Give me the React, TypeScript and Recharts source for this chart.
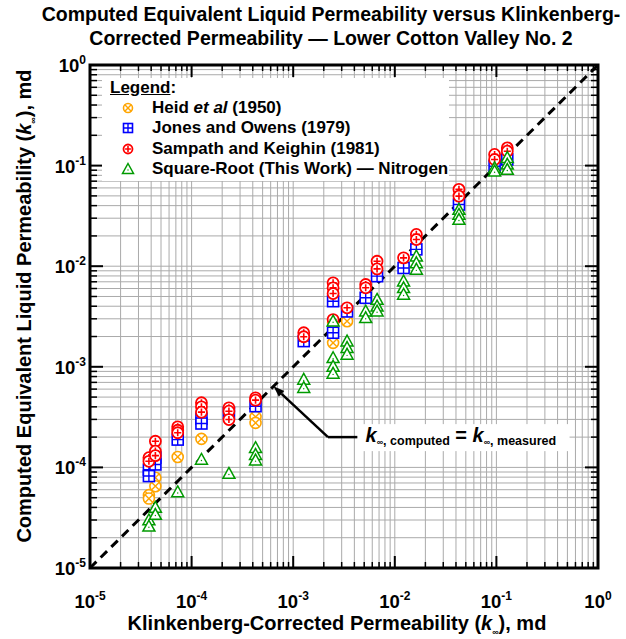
import React from "react"
import {
    ScatterChart,
    Scatter,
    XAxis,
    YAxis,
    CartesianGrid,
    ReferenceLine,
    ReferenceArea,
    ReferenceDot,
} from "recharts"

// log grid: 1..9 x 10^k between 1e-5 and 1
const DECADES = [-5, -4, -3, -2, -1]
const LOG_TICKS = [...DECADES.flatMap((e) => [1, 2, 3, 4, 5, 6, 7, 8, 9].map((m) => +(m * Math.pow(10, e)).toPrecision(3))), 1]

// [k_inf measured, k_inf computed], md
const HEID: [number, number][] = [
    [3.8e-5, 5.3e-5], [3.8e-5, 4.9e-5],
    [4.4e-5, 7.9e-5], [4.4e-5, 6.5e-5],
    [7.3e-5, 1.27e-4],
    [1.25e-4, 1.92e-4],
    [4.26e-4, 3.18e-4], [4.26e-4, 2.77e-4],
    [2.47e-3, 2.76e-3], [2.47e-3, 1.73e-3],
    [3.39e-3, 2.84e-3],
]

const JONES: [number, number][] = [
    [3.8e-5, 9.5e-5], [3.8e-5, 8.2e-5],
    [4.4e-5, 1.25e-4], [4.4e-5, 1.07e-4],
    [7.3e-5, 1.89e-4],
    [1.25e-4, 3.04e-4], [1.25e-4, 2.73e-4],
    [2.33e-4, 3.49e-4],
    [4.26e-4, 4.06e-4],
    [1.27e-3, 1.8e-3],
    [2.47e-3, 4.49e-3], [2.47e-3, 2.18e-3],
    [3.39e-3, 3.55e-3],
    [5.17e-3, 4.85e-3],
    [6.69e-3, 7.96e-3],
    [1.22e-2, 9.6e-3],
    [1.63e-2, 1.47e-2],
    [4.28e-2, 4.1e-2],
    [9.6e-2, 9.86e-2],
    [0.128, 0.115],
]

const SAMPATH: [number, number][] = [
    [3.8e-5, 1.25e-4], [3.8e-5, 1.15e-4],
    [4.4e-5, 1.82e-4], [4.4e-5, 1.45e-4], [4.4e-5, 1.31e-4],
    [7.3e-5, 2.53e-4], [7.3e-5, 2.34e-4], [7.3e-5, 2.21e-4],
    [1.25e-4, 4.39e-4], [1.25e-4, 4.0e-4], [1.25e-4, 3.54e-4],
    [2.33e-4, 3.91e-4], [2.33e-4, 3.62e-4], [2.33e-4, 2.99e-4],
    [4.26e-4, 4.92e-4], [4.26e-4, 4.66e-4],
    [1.27e-3, 2.18e-3], [1.27e-3, 1.99e-3],
    [2.47e-3, 6.84e-3], [2.47e-3, 6.1e-3], [2.47e-3, 5.35e-3], [2.47e-3, 2.95e-3],
    [3.39e-3, 3.86e-3],
    [5.17e-3, 6.58e-3], [5.17e-3, 6.1e-3],
    [6.69e-3, 1.12e-2], [6.69e-3, 9.4e-3],
    [1.22e-2, 1.21e-2],
    [1.63e-2, 2.07e-2], [1.63e-2, 1.84e-2],
    [4.28e-2, 5.8e-2], [4.28e-2, 4.97e-2],
    [9.6e-2, 0.129], [9.6e-2, 0.115],
    [0.128, 0.15], [0.128, 0.139],
]

const SQRT_N2: [number, number][] = [
    [3.8e-5, 3.0e-5], [3.8e-5, 2.6e-5],
    [4.4e-5, 4.0e-5], [4.4e-5, 3.4e-5],
    [7.3e-5, 5.7e-5],
    [1.25e-4, 1.2e-4],
    [2.33e-4, 8.7e-5],
    [4.26e-4, 1.57e-4], [4.26e-4, 1.34e-4], [4.26e-4, 1.18e-4],
    [1.27e-3, 7.5e-4], [1.27e-3, 6.2e-4],
    [2.47e-3, 2.84e-3], [2.47e-3, 1.23e-3], [2.47e-3, 1.01e-3], [2.47e-3, 8.6e-4],
    [3.39e-3, 1.8e-3], [3.39e-3, 1.55e-3], [3.39e-3, 1.33e-3],
    [5.17e-3, 3.57e-3], [5.17e-3, 3.07e-3],
    [6.69e-3, 4.67e-3], [6.69e-3, 4.0e-3], [6.69e-3, 3.57e-3],
    [1.22e-2, 7.1e-3], [1.22e-2, 6.1e-3], [1.22e-2, 5.24e-3],
    [1.63e-2, 1.26e-2], [1.63e-2, 1.08e-2], [1.63e-2, 9.3e-3],
    [4.28e-2, 3.66e-2], [4.28e-2, 3.27e-2], [4.28e-2, 2.91e-2],
    [9.6e-2, 9.5e-2], [9.6e-2, 8.8e-2],
    [0.128, 0.12], [0.128, 0.103], [0.128, 0.0914],
]

// annotation anchors (data coords)
const ARROW_TIP = { x: 6.4e-4, y: 6.4e-4 }
const ARROW_ELBOW = { x: 2.2e-3, y: 2.0e-4 }
const NOTE_START = { x: 4.3e-3, y: 2.0e-4 }

const ORANGE = "#FFA500"
const BLUE = "#0000FF"
const RED = "#FF0000"
const GREEN = "#009A00"
const FONT = "'Liberation Sans', Arial, sans-serif"

const PLOT = { left: 90, right: 598, top: 65, bottom: 568 }
const W = 626
const H = 639
const Y_AXIS_W = 60
const X_AXIS_H = 50

const toRows = (pts: [number, number][]) => pts.map(([x, y]) => ({ x, y }))

const isMajor = (v: number) => Math.abs(Math.log10(v) - Math.round(Math.log10(v))) < 1e-6

const HeidMark = ({ cx, cy, r = 5.5 }: any) => {
    const d = r * 0.707
    return (
        <g>
            <circle cx={cx} cy={cy} r={r} fill="#fff" stroke={ORANGE} strokeWidth={1.6} />
            <path d={`M${cx - d},${cy - d}L${cx + d},${cy + d}M${cx - d},${cy + d}L${cx + d},${cy - d}`} stroke={ORANGE} strokeWidth={1.4} />
        </g>
    )
}

const JonesMark = ({ cx, cy, r = 5.5 }: any) => (
    <g>
        <rect x={cx - r} y={cy - r} width={2 * r} height={2 * r} fill="#fff" stroke={BLUE} strokeWidth={1.6} />
        <path d={`M${cx - r},${cy}L${cx + r},${cy}M${cx},${cy - r}L${cx},${cy + r}`} stroke={BLUE} strokeWidth={1.4} />
    </g>
)

const SampathMark = ({ cx, cy, r = 5.5 }: any) => {
    const d = r * 0.65
    return (
        <g>
            <circle cx={cx} cy={cy} r={r} fill="#fff" stroke={RED} strokeWidth={1.8} />
            <path d={`M${cx - d},${cy}L${cx + d},${cy}M${cx},${cy - d}L${cx},${cy + d}`} stroke={RED} strokeWidth={1.6} />
        </g>
    )
}

const SqrtMark = ({ cx, cy, r = 6 }: any) => (
    <g>
        <path d={`M${cx},${cy - r}L${cx + r},${cy + r * 0.8}L${cx - r},${cy + r * 0.8}Z`} fill="#fff" stroke={GREEN} strokeWidth={1.5} />
        <circle cx={cx} cy={cy + 1} r={0.7} fill={GREEN} />
    </g>
)

const Pow10 = ({ exp }: { exp: number }) => (
    <>
        <tspan>10</tspan>
        <tspan dy={-8} fontSize={12}>{exp}</tspan>
    </>
)

const XTick = (props: any) => {
    const { x, payload } = props
    const v = payload.value
    const major = isMajor(v)
    const len = major ? 12 : 6
    return (
        <g>
            <line x1={x} x2={x} y1={PLOT.bottom} y2={PLOT.bottom - len} stroke="#000" strokeWidth={major ? 2 : 1.5} />
            <line x1={x} x2={x} y1={PLOT.top} y2={PLOT.top + len} stroke="#000" strokeWidth={major ? 2 : 1.5} />
            {major && (
                <text x={x} y={608} textAnchor="middle" fontFamily={FONT} fontWeight="bold" fontSize={18.5} fill="#000">
                    <Pow10 exp={Math.round(Math.log10(v))} />
                </text>
            )}
        </g>
    )
}

const YTick = (props: any) => {
    const { y, payload } = props
    const v = payload.value
    const major = isMajor(v)
    const len = major ? 13 : 7
    return (
        <g>
            <line x1={PLOT.left} x2={PLOT.left + len} y1={y} y2={y} stroke="#000" strokeWidth={major ? 2 : 1.5} />
            <line x1={PLOT.right} x2={PLOT.right - len} y1={y} y2={y} stroke="#000" strokeWidth={major ? 2 : 1.5} />
            {major && (
                <text x={PLOT.left - 4} y={y + 7} textAnchor="end" fontFamily={FONT} fontWeight="bold" fontSize={18.5} fill="#000">
                    <Pow10 exp={Math.round(Math.log10(v))} />
                </text>
            )}
        </g>
    )
}

const XTitle = () => (
    <text x={337} y={630} textAnchor="middle" fontFamily={FONT} fontWeight="bold" fontSize={20} fill="#000">
        Klinkenberg-Corrected Permeability (<tspan fontStyle="italic">k</tspan>
        <tspan fontSize={9} dy={5}>∞</tspan>
        <tspan dy={-5}>), md</tspan>
    </text>
)

const YTitle = () => {
    const cx = 31
    const cy = 306
    return (
        <text x={cx} y={cy} transform={`rotate(-90 ${cx} ${cy})`} textAnchor="middle" fontFamily={FONT} fontWeight="bold" fontSize={20} fill="#000">
            Computed Equivalent Liquid Permeability (<tspan fontStyle="italic">k</tspan>
            <tspan fontSize={9} dy={5}>∞</tspan>
            <tspan dy={-5}>), md</tspan>
        </text>
    )
}

const Arrow = (props: any) => {
    const { x1, y1, x2, y2 } = props
    const a = Math.atan2(y2 - y1, x2 - x1)
    const L = 11
    const Wd = 4
    const bx = x2 - L * Math.cos(a)
    const by = y2 - L * Math.sin(a)
    const px = -Math.sin(a) * Wd
    const py = Math.cos(a) * Wd
    return (
        <g>
            <line x1={x1} y1={y1} x2={bx} y2={by} stroke="#000" strokeWidth={2.5} />
            <path d={`M${x2},${y2}L${bx + px},${by + py}L${bx - px},${by - py}Z`} fill="#000" />
        </g>
    )
}

const Note = (props: any) => {
    const { cx, cy } = props
    return (
        <g>
            <rect x={cx} y={cy - 13} width={212} height={27} fill="#fff" />
            <text x={cx + 8} y={cy + 5} fontFamily={FONT} fontWeight="bold" fontSize={20} fill="#000">
                <tspan fontStyle="italic">k</tspan>
                <tspan fontSize={9} dy={3}>∞</tspan>
                <tspan fontSize={12.5}>, computed</tspan>
                <tspan dy={-3}> = </tspan>
                <tspan fontStyle="italic">k</tspan>
                <tspan fontSize={9} dy={3}>∞</tspan>
                <tspan fontSize={12.5}>, measured</tspan>
            </text>
        </g>
    )
}

const LEGEND_ITEMS = [
    { key: "heid", Mark: HeidMark, label: <>Heid <i>et al</i> (1950)</> },
    { key: "jones", Mark: JonesMark, label: <>Jones and Owens (1979)</> },
    { key: "sampath", Mark: SampathMark, label: <>Sampath and Keighin (1981)</> },
    { key: "sqrt", Mark: SqrtMark, label: <>Square-Root (This Work) — Nitrogen</> },
]

export default function App() {
    return (
        <div style={{ position: "absolute", left: 0, top: 0, width: W, height: H, background: "#fff", fontFamily: FONT }}>
            <div
                style={{
                    position: "absolute",
                    left: 36,
                    top: 2,
                    width: 590,
                    textAlign: "center",
                    fontWeight: "bold",
                    fontSize: 19.5,
                    lineHeight: "24px",
                    whiteSpace: "nowrap",
                    color: "#000",
                }}
            >
                Computed Equivalent Liquid Permeability versus Klinkenberg-
                <br />
                Corrected Permeability — Lower Cotton Valley No. 2
            </div>

            <div style={{ position: "absolute", left: 0, top: 0 }}>
                <ScatterChart
                    width={W}
                    height={H}
                    margin={{
                        top: PLOT.top,
                        right: W - PLOT.right,
                        left: PLOT.left - Y_AXIS_W,
                        bottom: H - PLOT.bottom - X_AXIS_H,
                    }}
                >
                    <CartesianGrid stroke="#aaaaaa" strokeWidth={1} horizontal vertical />
                    <XAxis
                        type="number"
                        dataKey="x"
                        scale="log"
                        domain={[1e-5, 1]}
                        allowDataOverflow
                        ticks={LOG_TICKS}
                        interval={0}
                        axisLine={false}
                        tickLine={false}
                        tick={<XTick />}
                        height={X_AXIS_H}
                        label={<XTitle />}
                    />
                    <YAxis
                        type="number"
                        dataKey="y"
                        scale="log"
                        domain={[1e-5, 1]}
                        allowDataOverflow
                        ticks={LOG_TICKS}
                        interval={0}
                        axisLine={false}
                        tickLine={false}
                        tick={<YTick />}
                        width={Y_AXIS_W}
                        label={<YTitle />}
                    />
                    <ReferenceLine
                        segment={[{ x: 1e-5, y: 1e-5 }, { x: 1, y: 1 }]}
                        stroke="#000"
                        strokeWidth={3}
                        strokeDasharray="9 6"
                    />
                    <ReferenceLine segment={[ARROW_ELBOW, ARROW_TIP]} shape={<Arrow />} />
                    <ReferenceLine segment={[ARROW_ELBOW, NOTE_START]} stroke="#000" strokeWidth={2.5} />
                    <ReferenceDot x={NOTE_START.x} y={NOTE_START.y} r={1} shape={<Note />} />
                    <Scatter name="Heid et al (1950)" data={toRows(HEID)} shape={<HeidMark />} isAnimationActive={false} />
                    <Scatter name="Jones and Owens (1979)" data={toRows(JONES)} shape={<JonesMark />} isAnimationActive={false} />
                    <Scatter name="Sampath and Keighin (1981)" data={toRows(SAMPATH)} shape={<SampathMark />} isAnimationActive={false} />
                    <Scatter name="Square-Root (This Work) — Nitrogen" data={toRows(SQRT_N2)} shape={<SqrtMark />} isAnimationActive={false} />
                    <ReferenceArea x1={1e-5} x2={1} y1={1e-5} y2={1} fill="none" stroke="#000" strokeWidth={3} />
                </ScatterChart>
            </div>

            {/* legend box, top-left inside the plot */}
            <div
                style={{
                    position: "absolute",
                    left: 102,
                    top: 78,
                    width: 347,
                    height: 103,
                    background: "#fff",
                    fontWeight: "bold",
                    fontSize: 17,
                    color: "#000",
                }}
            >
                <div style={{ position: "absolute", left: 8, top: 0, lineHeight: "20px" }}>
                    <span style={{ textDecoration: "underline" }}>Legend</span>:
                </div>
                {LEGEND_ITEMS.map(({ key, Mark, label }, i) => (
                    <div key={key} style={{ position: "absolute", left: 18, top: 20 + i * 20.3, height: 20, display: "flex", alignItems: "center", whiteSpace: "nowrap" }}>
                        <svg width={16} height={16} style={{ marginRight: 16 }}>
                            <Mark cx={8} cy={8} r={key === "sqrt" ? 5.5 : 4.5} />
                        </svg>
                        <span style={{ lineHeight: "20px" }}>{label}</span>
                    </div>
                ))}
            </div>
        </div>
    )
}
